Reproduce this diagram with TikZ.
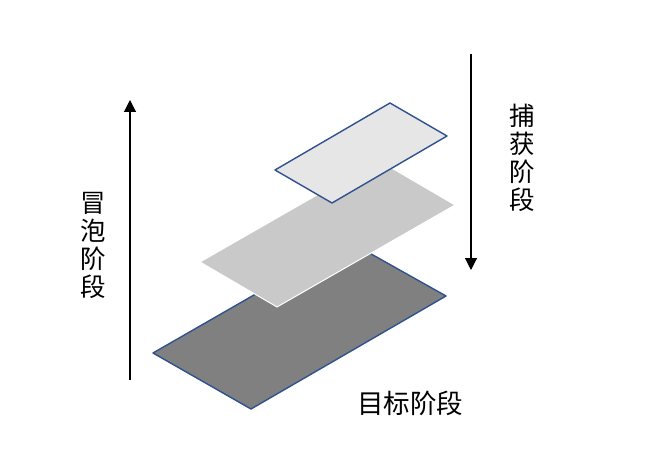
\documentclass[tikz,border=0pt]{standalone}
\usepackage{fontspec}
\newfontfamily\cjk{Noto Sans CJK SC}
\usetikzlibrary{arrows.meta}
\definecolor{edgeblue}{HTML}{2F528F}
\definecolor{darkplate}{HTML}{808080}
\definecolor{midplate}{HTML}{C9C9C9}
\definecolor{topplate}{HTML}{E6E6E6}
\tikzset{
  plateedge/.style={draw=edgeblue, line width=1.4pt, line join=round},
  flowarrow/.style={line width=1.1pt, -{Triangle[length=12pt,width=12pt]}},
  vlabel/.style={font=\cjk\fontsize{25.5}{28}\selectfont, align=center, inner sep=0pt},
  hlabel/.style={font=\cjk\fontsize{26.5}{28}\selectfont, inner sep=0pt}
}
\begin{document}
\begin{tikzpicture}[x=1pt,y=-1pt]
\useasboundingbox (0,0) rectangle (664,457);
\fill[white] (0,0) rectangle (664,457);
% bottom plate
\draw[plateedge, fill=darkplate] (153,353) -- (251,409) -- (446,296) -- (348,241) -- cycle;
% middle plate
\draw[draw=white, line width=1pt, fill=midplate] (200,262) -- (277,307) -- (455,205) -- (378,160) -- cycle;
% top plate
\draw[plateedge, fill=topplate] (275,170) -- (332,203) -- (447,136) -- (390,103) -- cycle;
% arrows
\coordinate (upstart) at (130,380);
\coordinate (upend) at (130,100);
\draw[flowarrow] (upstart) -- (upend);
\coordinate (downstart) at (471,54);
\coordinate (downend) at (471,270);
\draw[flowarrow] (downstart) -- (downend);
% labels
\node[vlabel] (bubble) at (93,245) {冒\\泡\\阶\\段};
\node[vlabel] (capture) at (522,158) {捕\\获\\阶\\段};
\node[hlabel] (target) at (410,403) {目标阶段};
\end{tikzpicture}
\end{document}
